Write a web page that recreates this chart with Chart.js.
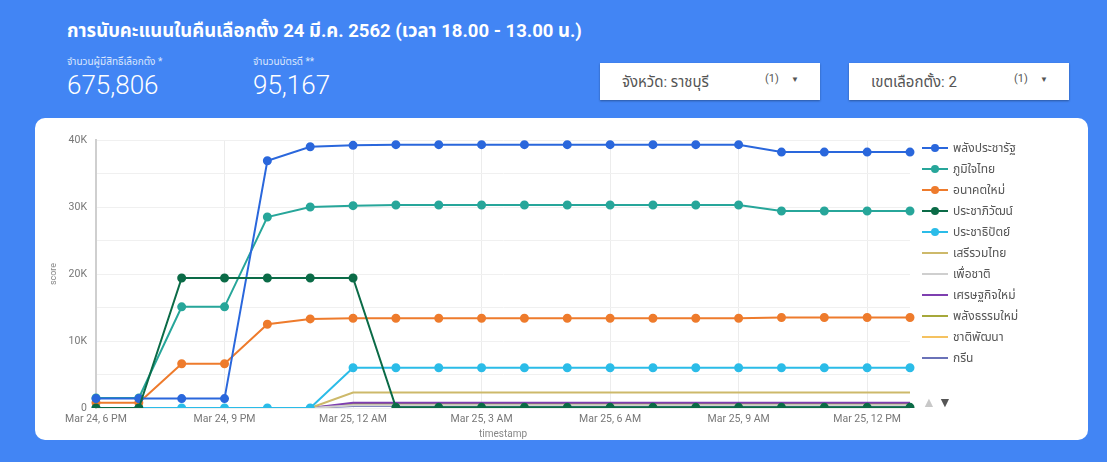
<!DOCTYPE html>
<html>
<head>
<meta charset="utf-8">
<script src="https://cdn.jsdelivr.net/npm/chart.js@4.4.0/dist/chart.umd.min.js"></script>
<style>
  body { margin: 0; width: 1107px; height: 462px; background: #4285f4; font-family: Roboto, "Noto Sans Thai", "Noto Sans", sans-serif; overflow: hidden; position: relative; }
  .title { position: absolute; left: 67px; top: 17px; color: #fff; font-size: 18.5px; font-weight: bold; white-space: nowrap; }
  .kpi { position: absolute; top: 54px; color: #fff; }
  .kpi .lab { font-size: 10px; color: #dce7fd; }
  .kpi .val { font-size: 26px; font-weight: 300; margin-top: 0px; }
  .dd { position: absolute; top: 63px; width: 220px; height: 37px; background: #fff; box-shadow: 0 1px 2px rgba(0,0,0,0.35); font-size: 15px; color: #555; }
  .dd .t { position: absolute; left: 22px; top: 8px; }
  .dd .n { position: absolute; left: 165px; top: 9px; font-size: 11px; }
  .dd .a { position: absolute; left: 191px; top: 12px; font-size: 8px; }
  .card { position: absolute; left: 35px; top: 118px; width: 1053px; height: 322px; background: #fff; border-radius: 10px; }
  #legend { position: absolute; left: 887px; top: 20px; }
  .li { height: 21px; position: relative; font-size: 12px; color: #555; white-space: nowrap; }
  .li .ln { position: absolute; left: 0; top: 9px; width: 26px; height: 2px; }
  .li .dot { position: absolute; left: 9px; top: 6px; width: 8px; height: 8px; border-radius: 50%; }
  .li .tx { position: absolute; left: 31px; top: 1px; }
  .pg { position: absolute; top: 276px; font-size: 14px; }
</style>
</head>
<body>
<div class="title">การนับคะแนนในคืนเลือกตั้ง 24 มี.ค. 2562 (เวลา 18.00 - 13.00 น.)</div>
<div class="kpi" style="left:67px"><div class="lab">จำนวนผู้มีสิทธิ์เลือกตั้ง *</div><div class="val">675,806</div></div>
<div class="kpi" style="left:253px"><div class="lab">จำนวนบัตรดี **</div><div class="val">95,167</div></div>
<div class="dd" style="left:600px"><span class="t">จังหวัด: ราชบุรี</span><span class="n">(1)</span><span class="a">▼</span></div>
<div class="dd" style="left:849px"><span class="t">เขตเลือกตั้ง: 2</span><span class="n">(1)</span><span class="a">▼</span></div>
<div class="card">
  <canvas id="chart" width="1053" height="322"></canvas>
  <div id="legend"></div>
  <span class="pg" style="left:887px;color:#c8c8c8">▲</span>
  <span class="pg" style="left:903px;color:#555">▼</span>
</div>
<script>
// hourly timestamps, 24 Mar 6 PM -> 25 Mar 1 PM
const labels = ['Mar 24, 6 PM', 'Mar 24, 7 PM', 'Mar 24, 8 PM', 'Mar 24, 9 PM', 'Mar 24, 10 PM', 'Mar 24, 11 PM',
  'Mar 25, 12 AM', 'Mar 25, 1 AM', 'Mar 25, 2 AM', 'Mar 25, 3 AM', 'Mar 25, 4 AM', 'Mar 25, 5 AM',
  'Mar 25, 6 AM', 'Mar 25, 7 AM', 'Mar 25, 8 AM', 'Mar 25, 9 AM', 'Mar 25, 10 AM', 'Mar 25, 11 AM',
  'Mar 25, 12 PM', 'Mar 25, 1 PM'];

const palangPracharat = [1400, 1400, 1400, 1400, 36900, 39000, 39200, 39300, 39300, 39300, 39300, 39300, 39300, 39300, 39300, 39300, 38200, 38200, 38200, 38200];
const bhumjaithai = [1500, 1500, 15100, 15100, 28500, 30000, 30200, 30300, 30300, 30300, 30300, 30300, 30300, 30300, 30300, 30300, 29400, 29400, 29400, 29400];
const anakotMai = [800, 800, 6600, 6600, 12500, 13300, 13400, 13400, 13400, 13400, 13400, 13400, 13400, 13400, 13400, 13400, 13500, 13500, 13500, 13500];
const prachapiwat = [0, 0, 19400, 19400, 19400, 19400, 19400, 100, 100, 100, 100, 100, 100, 100, 100, 100, 100, 100, 100, 100];
const democrat = [0, 0, 0, 0, 0, 0, 6000, 6000, 6000, 6000, 6000, 6000, 6000, 6000, 6000, 6000, 6000, 6000, 6000, 6000];
const seriRuamThai = [0, 0, 0, 0, 0, 0, 2300, 2300, 2300, 2300, 2300, 2300, 2300, 2300, 2300, 2300, 2300, 2300, 2300, 2300];
const puaChat = [0, 0, 0, 0, 0, 0, 400, 400, 400, 400, 400, 400, 400, 400, 400, 400, 400, 400, 400, 400];
const setthakitMai = [0, 0, 0, 0, 0, 0, 800, 800, 800, 800, 800, 800, 800, 800, 800, 800, 800, 800, 800, 800];
const palangThamMai = [0, 0, 0, 0, 0, 0, 600, 600, 600, 600, 600, 600, 600, 600, 600, 600, 600, 600, 600, 600];
const chartPattana = [0, 0, 0, 0, 0, 0, 500, 500, 500, 500, 500, 500, 500, 500, 500, 500, 500, 500, 500, 500];
const green = [0, 0, 0, 0, 0, 0, 300, 300, 300, 300, 300, 300, 300, 300, 300, 300, 300, 300, 300, 300];

const series = [
  ['พลังประชารัฐ', palangPracharat, '#2a67dc', true],
  ['ภูมิใจไทย', bhumjaithai, '#27a69a', true],
  ['อนาคตใหม่', anakotMai, '#ee7b2c', true],
  ['ประชาภิวัฒน์', prachapiwat, '#0b6b47', true],
  ['ประชาธิปัตย์', democrat, '#2bbce8', true],
  ['เสรีรวมไทย', seriRuamThai, '#cdb96a', false],
  ['เพื่อชาติ', puaChat, '#cfcfcf', false],
  ['เศรษฐกิจใหม่', setthakitMai, '#7e3fb0', false],
  ['พลังธรรมใหม่', palangThamMai, '#a6a83a', false],
  ['ชาติพัฒนา', chartPattana, '#f5c260', false],
  ['กรีน', green, '#6a72b8', false]
];

const datasets = series.map(([name, data, color, dots], i) => ({
  label: name,
  data: data,
  borderColor: color,
  backgroundColor: color,
  borderWidth: 2,
  pointRadius: dots ? 3.5 : 0,
  pointHoverRadius: 0,
  tension: 0,
  order: i === 3 ? -1 : i
}));

const chart = new Chart(document.getElementById('chart'), {
  type: 'line',
  data: { labels: labels, datasets: datasets },
  options: {
    responsive: false,
    animation: false,
    layout: { padding: { left: 13, right: 178, top: 22, bottom: 0 } },
    plugins: { legend: { display: false }, tooltip: { enabled: false } },
    scales: {
      x: {
        offset: false,
        grid: {
          drawTicks: false,
          color: (c) => c.index % 3 === 0 ? '#ececec' : 'rgba(0,0,0,0)'
        },
        border: { display: false },
        ticks: {
          autoSkip: false, maxRotation: 0, padding: 5, color: '#777',
          font: { family: 'Roboto', size: 10.5 },
          callback: function (v, i) { return i % 3 === 0 ? labels[i] : ''; }
        },
        title: { display: true, text: 'timestamp', color: '#888', font: { family: 'Roboto', size: 10 }, padding: { top: 0, bottom: 0 } },
        afterFit: (s) => { s.height = 32; }
      },
      y: {
        min: 0, max: 40000,
        grid: { drawTicks: false, color: '#f0f0f0' },
        border: { display: true, color: '#cfcfcf', width: 2 },
        ticks: {
          stepSize: 5000, padding: 9, color: '#777',
          font: { family: 'Roboto', size: 10.5 },
          callback: (v) => v === 0 ? '0' : (v % 10000 === 0 ? (v / 1000) + 'K' : '')
        },
        title: { display: true, text: 'score', color: '#888', font: { family: 'Roboto', size: 9 }, padding: 0 },
        afterFit: (s) => { s.width = 48; }
      }
    }
  }
});

// legend
const legend = document.getElementById('legend');
chart.data.datasets.forEach((ds) => {
  const row = document.createElement('div');
  row.className = 'li';
  let html = '<span class="ln" style="background:' + ds.borderColor + '"></span>';
  if (ds.pointRadius > 0) html += '<span class="dot" style="background:' + ds.borderColor + '"></span>';
  html += '<span class="tx">' + ds.label + '</span>';
  row.innerHTML = html;
  legend.appendChild(row);
});
</script>
</body>
</html>
